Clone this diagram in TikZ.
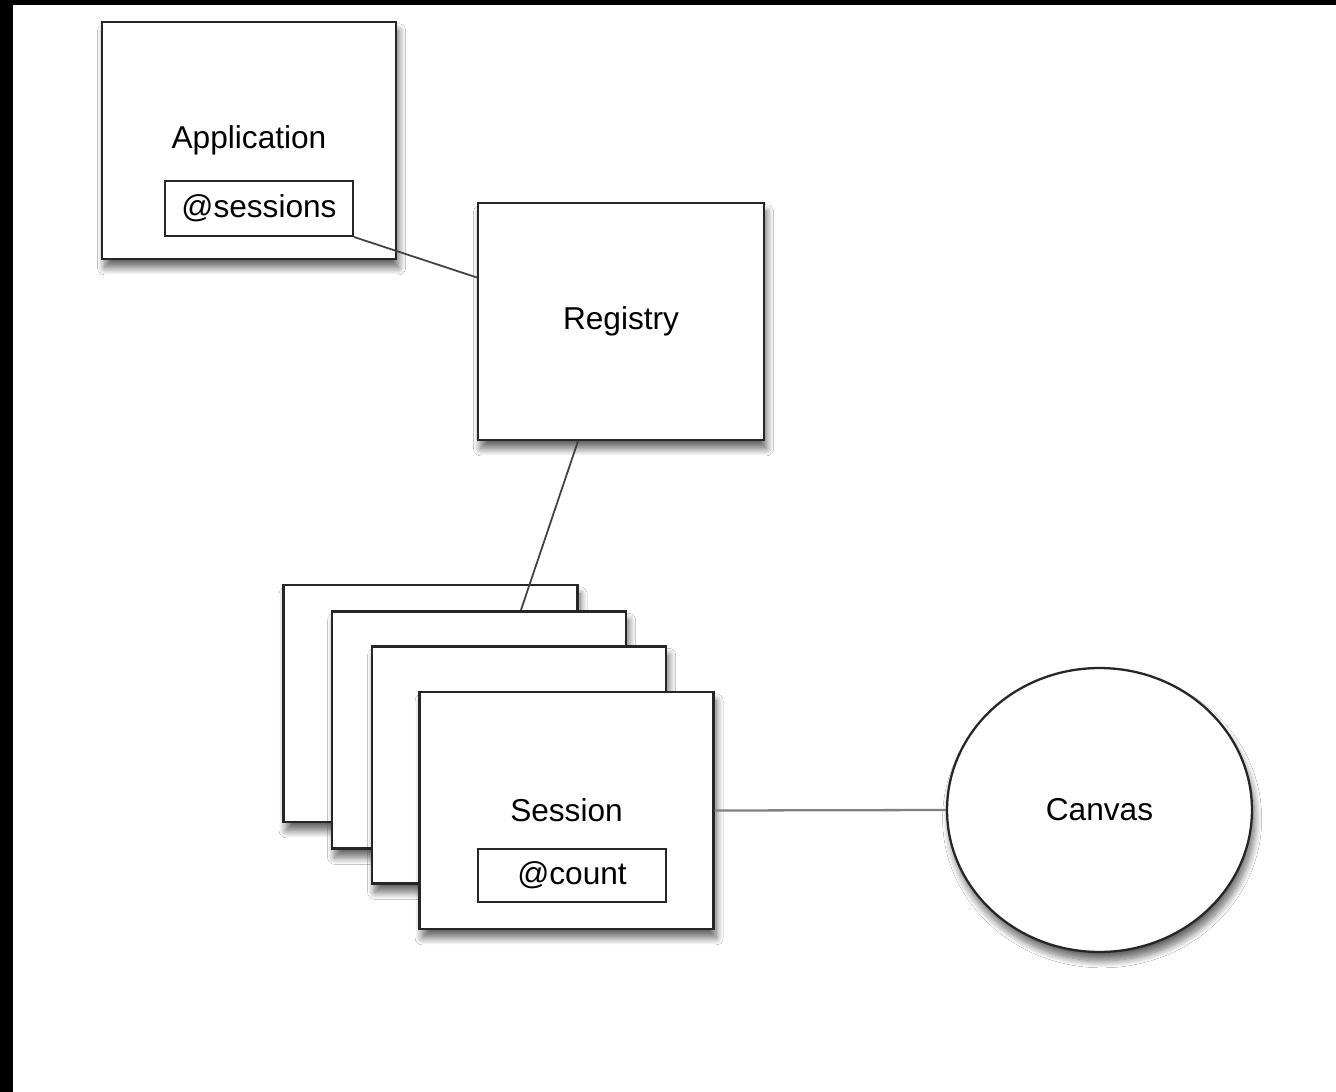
\documentclass[tikz,border=0pt]{standalone}
\usepackage{fontspec}
\setmainfont{Liberation Sans}
\usepackage{tikz}
\usetikzlibrary{positioning}
\usetikzlibrary{calc}
\usetikzlibrary{shapes.geometric}
\usetikzlibrary{shadows.blur}

\tikzset{
  box/.style={draw=black!85, line width=1.3pt, fill=white,
    minimum width=5.88cm, minimum height=4.74cm,
    blur shadow={shadow xshift=1.5pt, shadow yshift=-5pt, shadow blur radius=4pt, shadow blur steps=12, shadow opacity=60},
    font=\fontsize{18}{22}\selectfont},
  field/.style={draw=black!85, line width=1.1pt, fill=white,
    minimum width=3.76cm, minimum height=1.1cm,
    font=\fontsize{18}{22}\selectfont},
  link/.style={draw=black!75, line width=1pt},
}

\begin{document}
\begin{tikzpicture}[x=0.02cm, y=-0.02cm]
\fill[white] (0,0) rectangle (1336,1092);
\fill[black] (0,0) rectangle (13,1092);
\fill[black] (0,0) rectangle (1336,5);
\useasboundingbox (0,0) rectangle (1336,1092);

\node[box] (application) at (249,140.5) {Application};
\node[field] (sessions) at (259,208.5) {@sessions};
\node[box, minimum width=5.72cm] (registry) at (621,321.5) {Registry};
\draw[link] (sessions.south east) -- ($(registry.west)+(0,-44)$);

\node[box] (card1) at (430.5,703.5) {};
\coordinate (stacktop) at ($(card1.north)+(90.5,26)$);
\draw[link] ($(registry.south)+(-43,0)$) -- (stacktop);
\node[box] (card2) at (479,730) {};
\node[box] (card3) at (519,765) {};
\node[box] (session) at (566.5,810.5) {Session};
\node[field, minimum height=1.06cm] (count) at (572,875.5) {@count};

\node[box, ellipse, minimum width=6.1cm, minimum height=5.68cm] (canvas) at (1099.5,810) {Canvas};
\draw[link, draw=black!50, line width=1.3pt] (session.east) -- (canvas.west);
\end{tikzpicture}
\end{document}
